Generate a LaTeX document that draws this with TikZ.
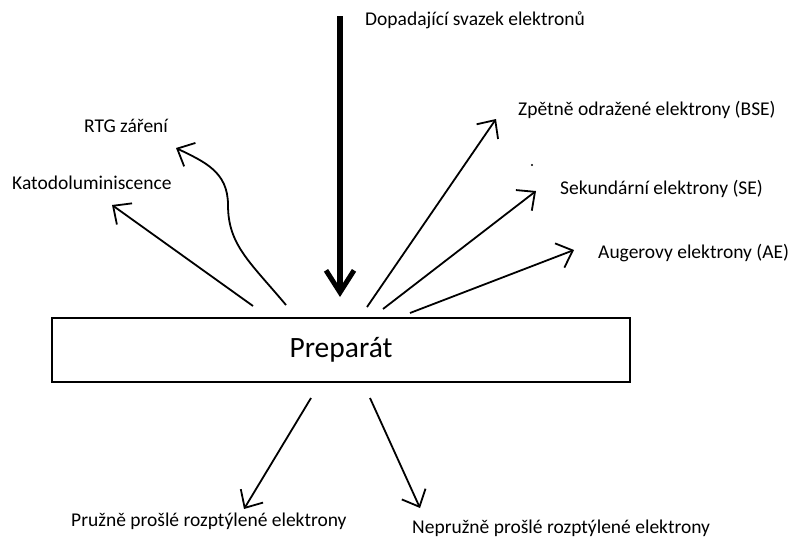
\documentclass[tikz,border=0pt]{standalone}
\usepackage{fontspec}
\setmainfont{Carlito}
\usetikzlibrary{arrows.meta}
\begin{document}
\begin{tikzpicture}[x=1pt,y=-1pt,
  lbl/.style={anchor=west,inner sep=0pt,font=\fontsize{19.5}{23}\selectfont},
  ray/.style={line width=1.8pt,-{Straight Barb[length=14pt,width=26pt,line width=1.8pt]}},
  beam/.style={line width=5.5pt,-{Straight Barb[length=22pt,width=28pt,line width=5pt]}}]
\useasboundingbox (0,0) rectangle (789,538);
% specimen
\node[draw,line width=2pt,minimum width=578pt,minimum height=64pt,inner sep=0pt,
  font=\fontsize{29.5}{34}\selectfont] (prep) at (341,350) {Preparát};
% labels
\node[lbl] (dop) at (365,20) {Dopadající svazek elektronů};
\node[lbl] (rtg) at (84,126) {RTG záření};
\node[lbl] (kat) at (12,183) {Katodoluminiscence};
\node[lbl] (bse) at (518,110) {Zpětně odražené elektrony (BSE)};
\node[lbl] (se) at (560,189) {Sekundární elektrony (SE)};
\node[lbl] (ae) at (598,253) {Augerovy elektrony (AE)};
\node[lbl] (pru) at (71,521) {Pružně prošlé rozptýlené elektrony};
\node[lbl] (nep) at (412,528.5) {Nepružně prošlé rozptýlené elektrony};
% coordinates
\coordinate (beamS) at (340,16);
\coordinate (beamE) at (340,297);
\coordinate (katS) at (253,306);
\coordinate (katE) at (112,205);
\coordinate (rtgS) at (286,305);
\coordinate (rtgE) at (176,148);
\coordinate (bseS) at (367,307);
\coordinate (bseE) at (496,119);
\coordinate (seS) at (383,309);
\coordinate (seE) at (536,191);
\coordinate (aeS) at (410,313);
\coordinate (aeE) at (574,250);
\coordinate (pruS) at (311,398);
\coordinate (pruE) at (244,509);
\coordinate (nepS) at (370,398);
\coordinate (nepE) at (420,508);
% arrows
\draw[beam] (beamS) -- (beamE);
\draw[ray] (katS) -- (katE);
\draw[ray] (rtgS) .. controls (250,262) and (228,245) .. (228,205)
  .. controls (228,172) and (205,162) .. (rtgE);
\draw[ray] (bseS) -- (bseE);
\draw[ray] (seS) -- (seE);
\draw[ray] (aeS) -- (aeE);
\draw[ray] (pruS) -- (pruE);
\draw[ray] (nepS) -- (nepE);
\fill (532,165) circle (1.2pt);
\end{tikzpicture}
\end{document}
